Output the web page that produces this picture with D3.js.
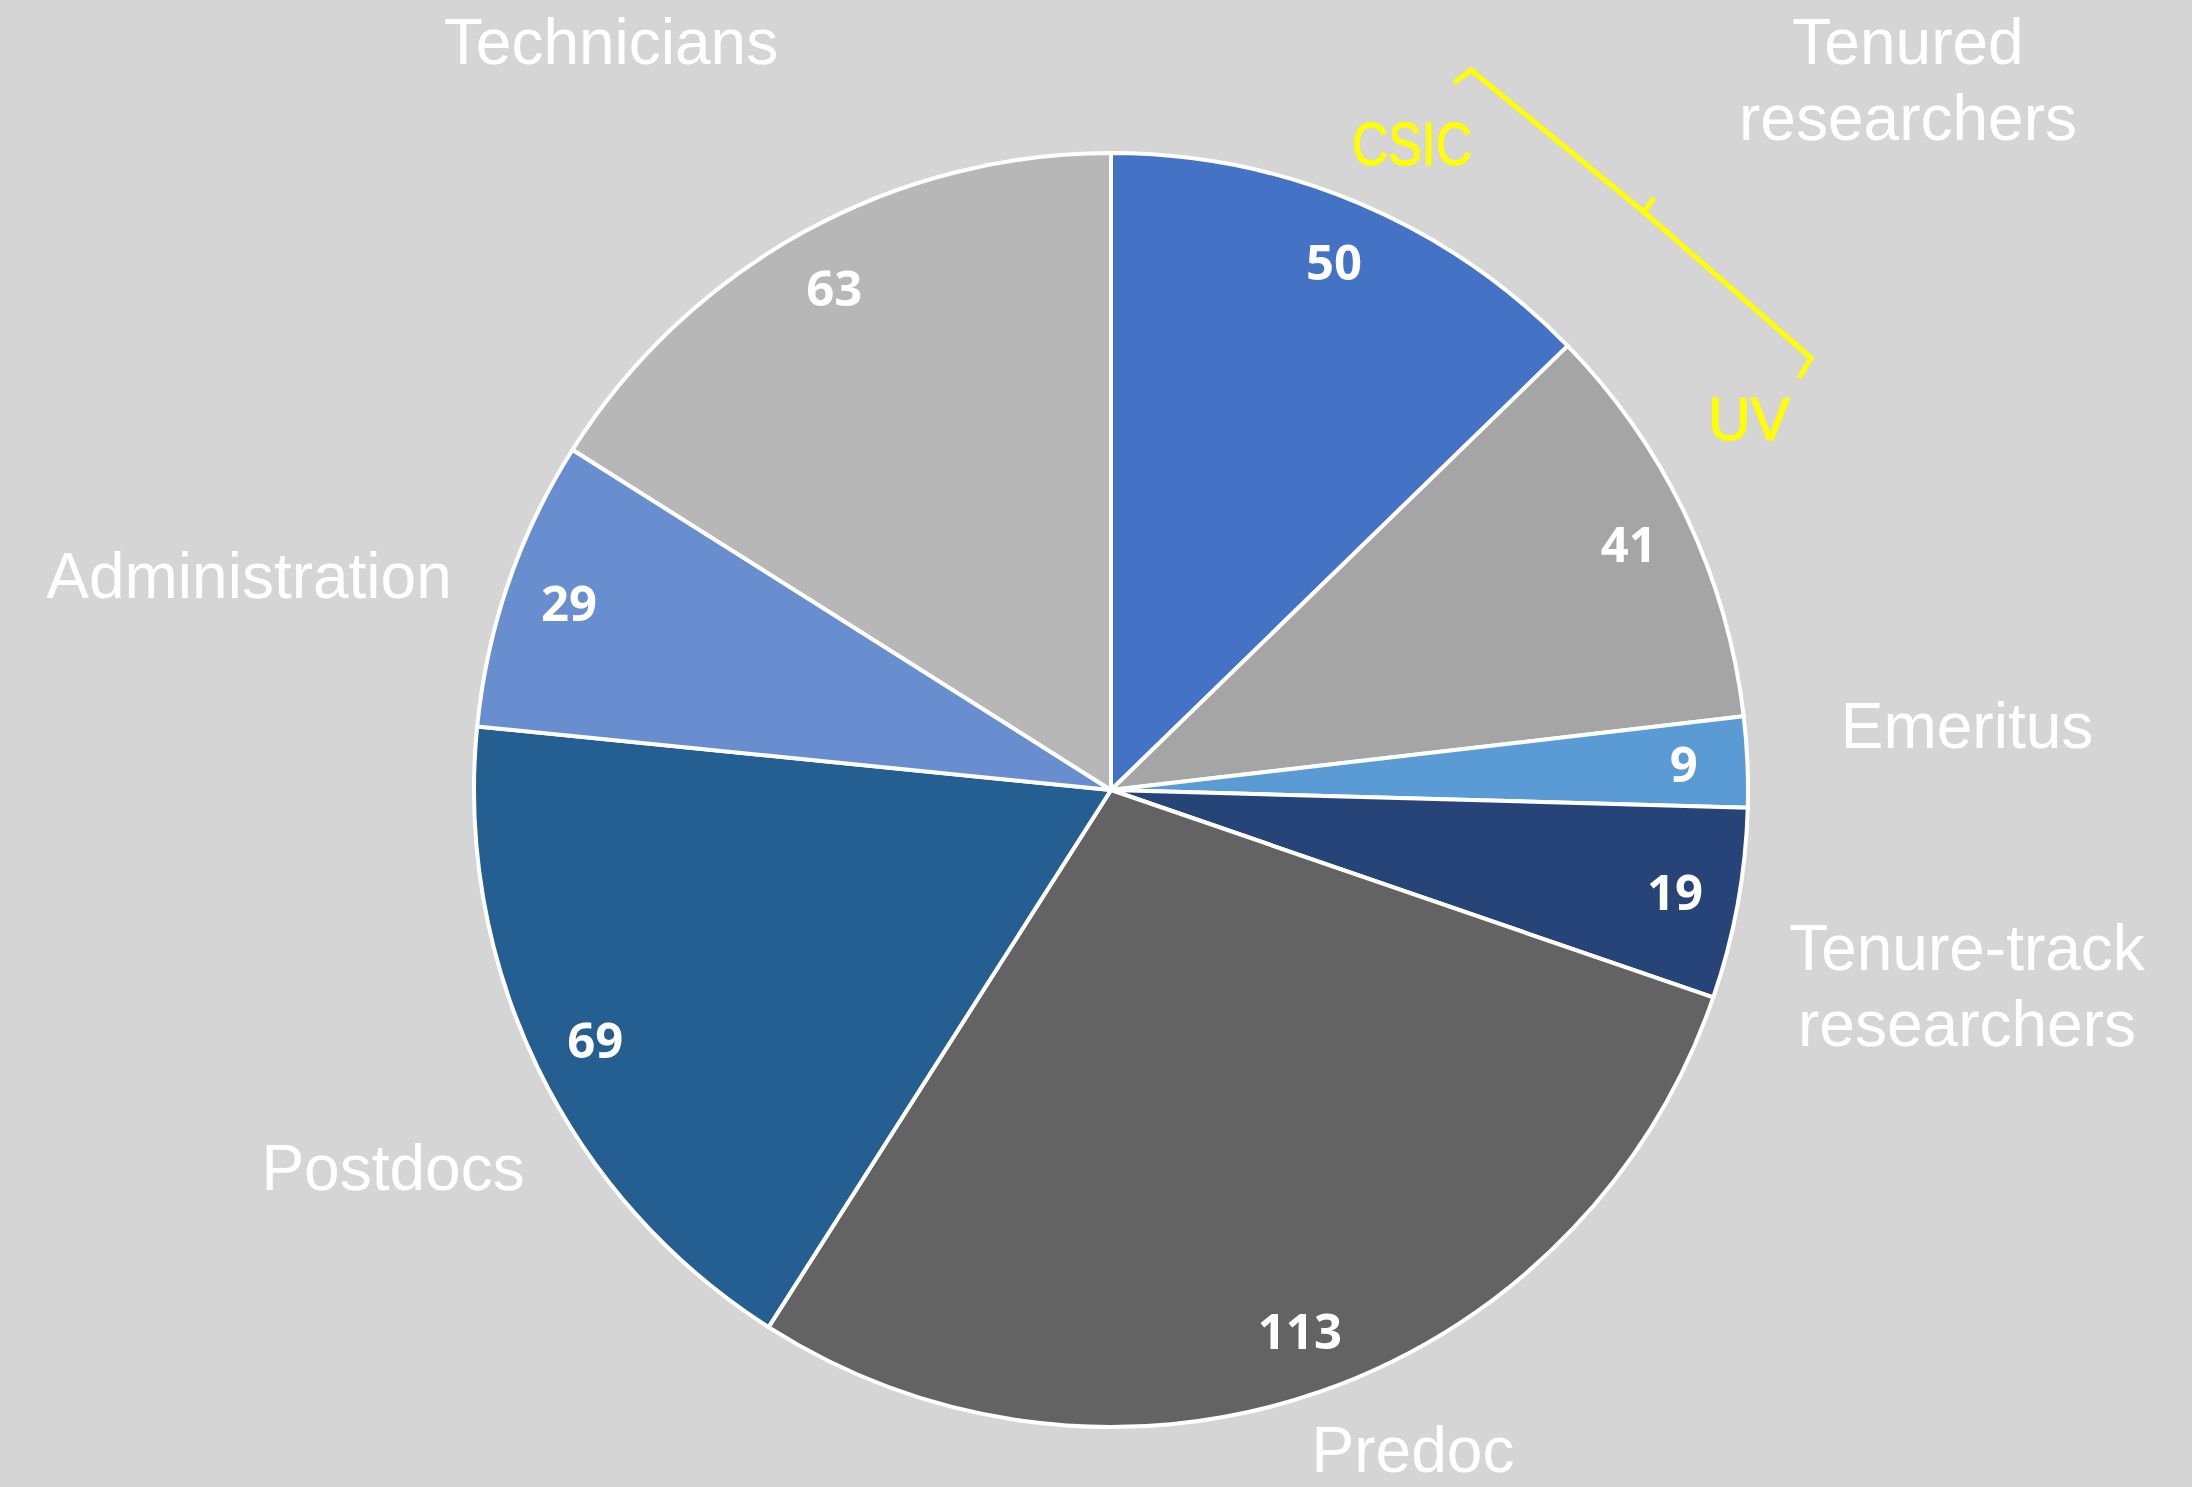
<html>
  <head>
    <meta charset="utf-8">
    <script src="https://d3js.org/d3.v7.min.js"></script>
    <style>
      html, body { margin: 0; padding: 0; background: #d5d5d5; }
      svg { display: block; }
      .cat-label { fill: #ffffff; font-family: "Liberation Sans", Arial, sans-serif; font-size: 64px; }
      .value-label { fill: #ffffff; font-family: "Open Sans", "Noto Sans", sans-serif; font-weight: 700; font-size: 49px; }
      .note-label { fill: #ffff00; font-family: "Liberation Sans", Arial, sans-serif; font-size: 62px; stroke: #ffff00; stroke-width: 1; }
    </style>
  </head>
  <body>
    <div id="chart"></div>
    <script>
      // slice data, clockwise from 12 o'clock
      const slices = ['Tenured CSIC', 'Tenured UV', 'Emeritus', 'Tenure-track', 'Predoc', 'Postdocs', 'Administration', 'Technicians'];
      const values = [50, 41, 9, 19, 113, 69, 29, 63];
      const colors = ['#4472c4', '#a5a5a5', '#5b9bd5', '#264478', '#636363', '#255e91', '#698ed0', '#b7b7b7'];

      // category labels (lines of text)
      const categoryLabels = [
        ['Tenured', 'researchers'],
        ['Emeritus'],
        ['Tenure-track', 'researchers'],
        ['Predoc'],
        ['Postdocs'],
        ['Administration'],
        ['Technicians'],
      ];
      const noteLabels = ['CSIC', 'UV'];

      // layout
      const width = 2192;
      const height = 1487;
      const center = { x: 1111, y: 790 };
      const radius = 637;
      const lineHeight = 76;
      // x centre / first baseline for each category label
      const labelPos = [
        [1908, 64],
        [1967, 748],
        [1967, 970],
        [1413, 1472],
        [393, 1190],
        [249, 598],
        [611, 64],
      ];
      const notePos = [
        { x: 1412, y: 165, len: 120 },
        { x: 1749, y: 440, len: 82 },
      ];

      const svg = d3
        .select('#chart')
        .append('svg')
        .attr('width', width)
        .attr('height', height);

      svg.append('rect')
        .attr('width', width)
        .attr('height', height)
        .attr('fill', '#d5d5d5');

      const pieData = d3.pie().sort(null).value((d) => d.value)(
        slices.map((name, i) => ({ name, value: values[i], color: colors[i] }))
      );

      const arc = d3.arc().innerRadius(0).outerRadius(radius);
      const labelArc = d3.arc().innerRadius(radius * 0.9).outerRadius(radius * 0.9);

      const pieG = svg.append('g').attr('transform', `translate(${center.x},${center.y})`);

      pieG.selectAll('path.slice')
        .data(pieData)
        .join('path')
        .attr('class', 'slice')
        .attr('d', arc)
        .attr('fill', (d) => d.data.color)
        .attr('stroke', '#ffffff')
        .attr('stroke-width', 4)
        .attr('stroke-linejoin', 'round');

      pieG.selectAll('text.value-label')
        .data(pieData)
        .join('text')
        .attr('class', 'value-label')
        .attr('transform', (d) => `translate(${labelArc.centroid(d)})`)
        .attr('text-anchor', 'middle')
        .attr('dy', '0.36em')
        .text((d) => d.data.value);

      // category labels
      const catG = svg.append('g');
      categoryLabels.forEach((lines, i) => {
        const t = catG.append('text')
          .attr('class', 'cat-label')
          .attr('text-anchor', 'middle')
          .attr('x', labelPos[i][0])
          .attr('y', labelPos[i][1]);
        lines.forEach((line, j) => {
          t.append('tspan')
            .attr('x', labelPos[i][0])
            .attr('dy', j === 0 ? 0 : lineHeight)
            .text(line);
        });
      });

      // yellow bracket splitting the tenured group into CSIC / UV
      const bracket = d3.line()([
        [1454, 83], [1471, 70], [1644, 212], [1654, 198], [1644, 212], [1811, 358], [1799, 378],
      ]);
      svg.append('path')
        .attr('d', bracket)
        .attr('fill', 'none')
        .attr('stroke', '#ffff00')
        .attr('stroke-width', 5)
        .attr('stroke-linejoin', 'miter');

      svg.selectAll('text.note-label')
        .data(noteLabels)
        .join('text')
        .attr('class', 'note-label')
        .attr('text-anchor', 'middle')
        .attr('x', (d, i) => notePos[i].x)
        .attr('y', (d, i) => notePos[i].y)
        .attr('textLength', (d, i) => notePos[i].len)
        .attr('lengthAdjust', 'spacingAndGlyphs')
        .text((d) => d);
    </script>
  </body>
</html>
